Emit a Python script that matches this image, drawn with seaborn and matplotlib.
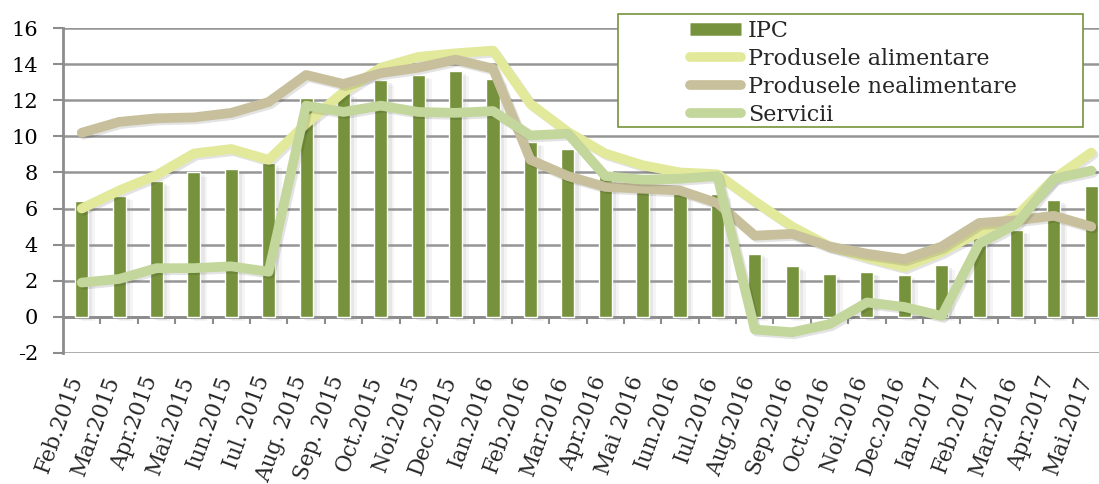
import numpy as np
import pandas as pd
import matplotlib
matplotlib.use('Agg')
import matplotlib.pyplot as plt
import matplotlib.patheffects as pe
import matplotlib.transforms as mtransforms
from matplotlib.lines import Line2D
from matplotlib.patches import Rectangle
import seaborn as sns

# Month labels as they appear on the chart (the second "Mar.2016" is in the source too)
labels = ['Feb.2015', 'Mar.2015', 'Apr.2015', 'Mai.2015', 'Iun.2015', 'Iul. 2015',
          'Aug. 2015', 'Sep. 2015', 'Oct.2015', 'Noi.2015', 'Dec.2015', 'Ian.2016',
          'Feb.2016', 'Mar.2016', 'Apr.2016', 'Mai 2016', 'Iun.2016', 'Iul.2016',
          'Aug.2016', 'Sep.2016', 'Oct.2016', 'Noi.2016', 'Dec.2016', 'Ian.2017',
          'Feb.2017', 'Mar.2016', 'Apr.2017', 'Mai.2017']

ipc = [6.4, 6.7, 7.5, 8.0, 8.2, 8.5, 12.1, 12.4, 13.1, 13.4, 13.6, 13.2,
       9.7, 9.3, 8.1, 7.3, 7.0, 6.8, 3.5, 2.8, 2.35, 2.5, 2.3, 2.85,
       4.35, 4.8, 6.45, 7.25]

alimentare = [6.0, 7.0, 7.85, 9.05, 9.3, 8.7, 10.7, 12.45, 13.8, 14.4, 14.6, 14.75,
              11.8, 10.25, 9.05, 8.4, 8.0, 7.9, 6.4, 5.0, 3.9, 3.3, 2.75, 3.6,
              4.7, 5.6, 7.65, 9.1]

nealimentare = [10.2, 10.8, 11.0, 11.05, 11.3, 11.9, 13.4, 12.9, 13.5, 13.8, 14.25, 13.75,
                8.7, 7.8, 7.2, 7.1, 7.0, 6.3, 4.5, 4.6, 3.9, 3.5, 3.2, 3.9,
                5.2, 5.35, 5.6, 5.0]

servicii = [1.9, 2.1, 2.7, 2.7, 2.8, 2.5, 11.7, 11.35, 11.7, 11.35, 11.3, 11.4,
            10.05, 10.15, 7.8, 7.6, 7.65, 7.8, -0.7, -0.85, -0.4, 0.8, 0.55, 0.05,
            4.05, 5.15, 7.65, 8.1]

df = pd.DataFrame({'pos': range(len(labels)), 'IPC': ipc,
                   'Produsele alimentare': alimentare,
                   'Produsele nealimentare': nealimentare,
                   'Servicii': servicii})

bar_color = '#76923C'
line_colors = {'Produsele alimentare': '#E2E99B',
               'Produsele nealimentare': '#C8C09C',
               'Servicii': '#C3D79C'}
axis_gray = '#8c8c8c'

sns.set_theme(style='white')
plt.rcParams['font.family'] = ['DejaVu Serif']
plt.rcParams['axes.unicode_minus'] = False

fig = plt.figure(figsize=(10.99, 4.84), dpi=100)
ax = fig.add_axes([63 / 1099, 131 / 484, 1047 / 1099, 325 / 484])

sns.barplot(data=df, x='pos', y='IPC', color=bar_color, saturation=1,
            width=0.35, errorbar=None, ax=ax, zorder=3)
for p in ax.patches:
    p.set_path_effects([
        pe.SimplePatchShadow(offset=(5, -3), shadow_rgbFace='#999999', alpha=0.10),
        pe.SimplePatchShadow(offset=(3, -2), shadow_rgbFace='#999999', alpha=0.15),
        pe.Normal()])

for col, c in line_colors.items():
    sns.lineplot(data=df, x='pos', y=col, color=c, lw=7, sort=False, ax=ax,
                 solid_capstyle='round', solid_joinstyle='round', zorder=4,
                 path_effects=[pe.SimpleLineShadow(offset=(1.5, -1.5), alpha=0.12),
                               pe.Normal()])

ax.set_xlim(-0.5, len(labels) - 0.5)
ax.set_ylim(-2, 16)
ax.set_xlabel('')
ax.set_ylabel('')

# y axis
ax.set_yticks(range(-2, 17, 2))
ax.tick_params(axis='y', which='major', left=True, length=7, width=1.5,
               color=axis_gray, pad=11, labelsize=15, labelcolor='black')
ax.yaxis.grid(True, color='#959595', lw=1.8)
ax.set_axisbelow(True)

# category axis crosses at 0, labels sit below the plot
ax.spines['bottom'].set_position(('data', 0))
ax.set_xticks(range(len(labels)))
ax.set_xticks(np.arange(0.5, len(labels), 1), minor=True)
ax.tick_params(axis='x', which='major', bottom=True, length=0, pad=43)
ax.tick_params(axis='x', which='minor', bottom=True, length=5, width=1.5,
               color=axis_gray, direction='out')
ax.set_xticklabels(labels, rotation=70, ha='right', va='center',
                   rotation_mode='anchor', fontsize=15.5)
shift = mtransforms.ScaledTranslation(-5 / 100, 0, fig.dpi_scale_trans)
for t in ax.get_xticklabels():
    t.set_transform(t.get_transform() + shift)

for s in ['top', 'right']:
    ax.spines[s].set_visible(False)
for s in ['left', 'bottom']:
    ax.spines[s].set_color(axis_gray)
    ax.spines[s].set_linewidth(2)

# legend box
box = Rectangle((618 / 1099, 1 - 127 / 484), 465 / 1099, 113 / 484,
                transform=fig.transFigure, facecolor='white',
                edgecolor=bar_color, lw=1.2, zorder=10)
fig.add_artist(box)

handles = [Line2D([], [], color=bar_color, lw=9, solid_capstyle='butt')]
handles += [Line2D([], [], color=c, lw=7, solid_capstyle='round')
            for c in line_colors.values()]
leg = fig.legend(handles, ['IPC'] + list(line_colors.keys()),
                 loc='upper left', bbox_to_anchor=(690 / 1099, 1 - 20 / 484),
                 frameon=False, fontsize=16, handlelength=2.3, handletextpad=0.3,
                 labelspacing=0.27, borderpad=0, borderaxespad=0)
leg.set_zorder(11)

fig.savefig('out.png', dpi=100)
